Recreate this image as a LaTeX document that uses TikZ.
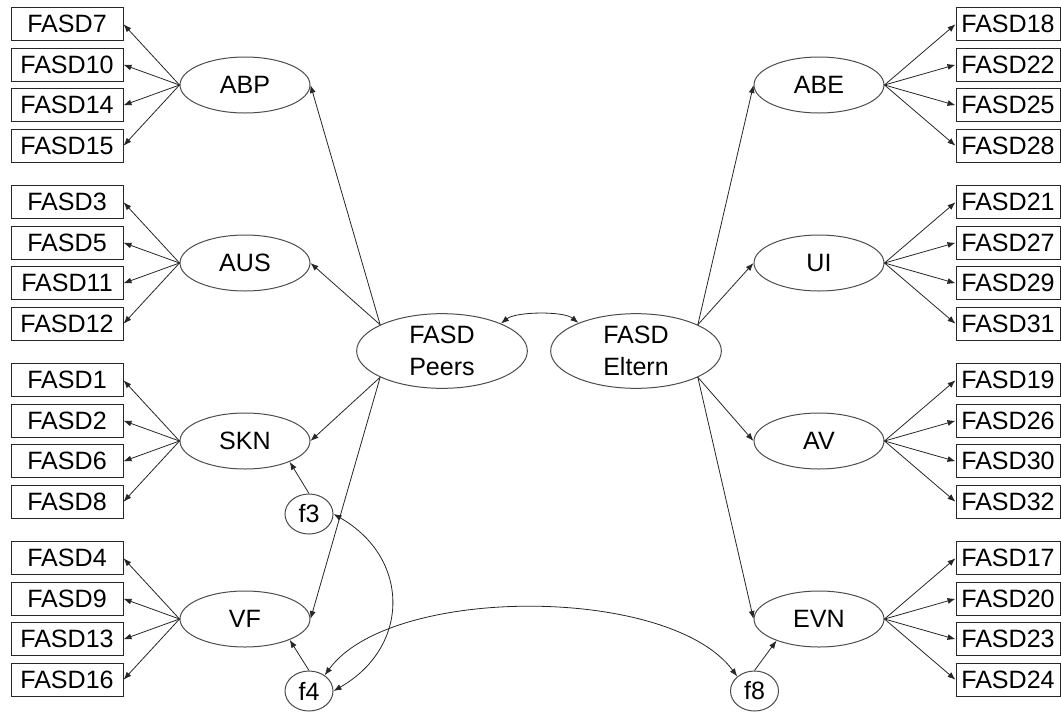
\documentclass[tikz,border=0pt]{standalone}
\usepackage{fontspec}
\setmainfont{Liberation Sans}
\usetikzlibrary{arrows.meta,shapes.geometric}
\begin{document}
\begin{tikzpicture}[x=0.75pt,y=-0.75pt,
  every node/.style={font=\fontsize{18.8}{24}\selectfont},
  obs/.style={draw=black!85, line width=0.75pt, minimum width=84pt, minimum height=24.75pt, inner sep=0pt},
  obsr/.style={obs, minimum width=78pt},
  lat/.style={ellipse, draw=black!70, line width=0.75pt, minimum width=97.5pt, minimum height=42pt, inner sep=0pt},
  biglat/.style={lat, minimum width=128pt, minimum height=56pt, align=center},
  res/.style={ellipse, draw=black!70, line width=0.75pt, minimum width=36pt, minimum height=30pt, inner sep=0pt},
  arr/.style={-{Latex[length=6pt,width=4.5pt]}, line width=0.6pt, draw=black!85},
  cov/.style={{Latex[length=6pt,width=4.5pt]}-{Latex[length=6pt,width=4.5pt]}, line width=0.6pt, draw=black!85}
]
\path[use as bounding box] (0,0) rectangle (1061,711);

% left side
\foreach \nm/\lab/\g/\items in {abp/ABP/85/{7,10,14,15}, aus/AUS/263/{3,5,11,12}, skn/SKN/441/{1,2,6,8}, vf/VF/619/{4,9,13,16}}{
  \node[lat] (\nm) at (245,\g) {\lab};
  \foreach \i [count=\k] in \items {
    \node[obs] (b\i) at (67,{\g+(\k-2.5)*40.5}) {FASD\i};
    \draw[arr] (\nm.west) -- (b\i.east);
  }
}

% right side
\foreach \nm/\lab/\g/\items in {abe/ABE/85/{18,22,25,28}, ui/UI/263/{21,27,29,31}, av/AV/441/{19,26,30,32}, evn/EVN/619/{17,20,23,24}}{
  \node[lat] (\nm) at (819,\g) {\lab};
  \foreach \i [count=\k] in \items {
    \node[obsr] (b\i) at (1008,{\g+(\k-2.5)*40.5}) {FASD\i};
    \draw[arr] (\nm.east) -- (b\i.west);
  }
}

% second order factors
\node[biglat] (peers) at (442,351) {FASD\\Peers};
\node[biglat] (eltern) at (636,351) {FASD\\Eltern};

% residuals
\node[res] (f3) at (309,514) {f3};
\node[res] (f4) at (309,691) {f4};
\node[res] (f8) at (754.5,691) {f8};

% loadings of second order factors
\draw[arr] (peers.157) -- (abp.east);
\draw[arr] (peers.157) -- (aus.east);
\draw[arr] (peers.203) -- (skn.east);
\draw[arr] (peers.203) -- (vf.east);
\draw[arr] (eltern.23) -- (abe.west);
\draw[arr] (eltern.23) -- (ui.west);
\draw[arr] (eltern.-23) -- (av.west);
\draw[arr] (eltern.-23) -- (evn.west);

% residual paths
\draw[arr] (f3.north) -- (skn.-25);
\draw[arr] (f4.north) -- (vf.-25);
\draw[arr] (f8.north) -- (evn.207);

% covariances
\draw[cov] (peers.25) .. controls +(15,-12) and +(-15,-12) .. (eltern.154);
\draw[cov] (f3.east) .. controls +(77,44) and +(77,-44) .. (f4.east);
\draw[cov] (f4.45) .. controls (390,585) and (670,585) .. (f8.140);
\end{tikzpicture}
\end{document}
